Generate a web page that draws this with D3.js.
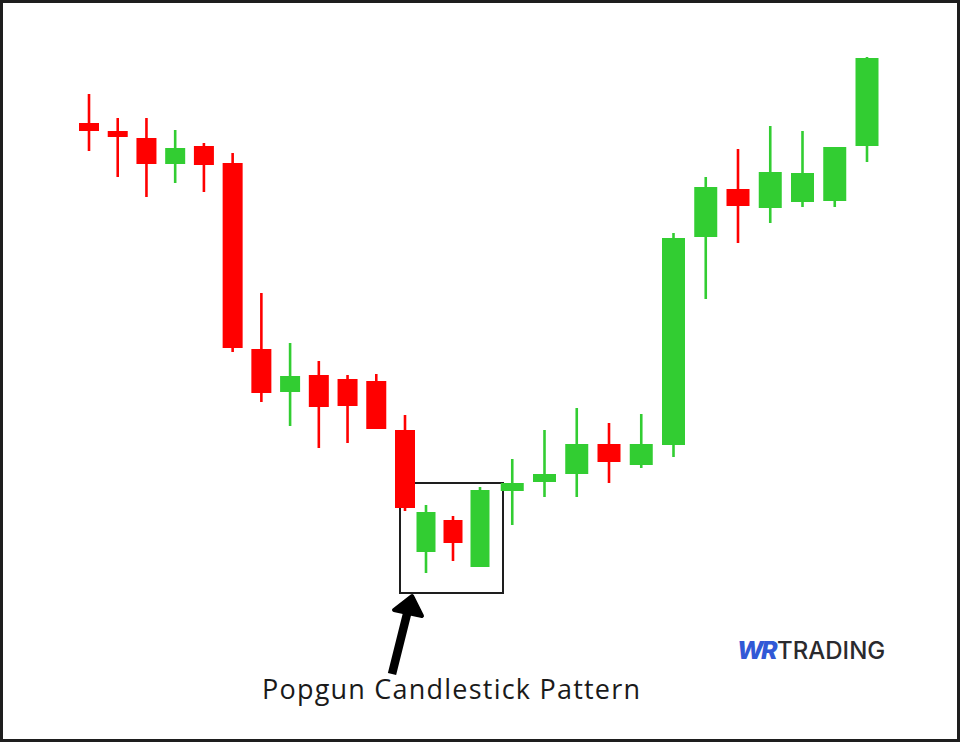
<!DOCTYPE html>
<html>
<head>
<meta charset="utf-8">
<script src="https://cdn.jsdelivr.net/npm/d3@7"></script>
<style>
  html, body { margin: 0; padding: 0; background: #fff; }
  svg { display: block; }
</style>
</head>
<body>
<svg id="chart" width="960" height="742"></svg>
<script>
// ---- data (price units, arbitrary) ----
const candleIndex = d3.range(27);
const opens  = [527, 519, 512, 486, 504, 487, 301, 258, 275, 271, 269, 220,  98, 130,  83, 159, 168, 176, 206, 185, 205, 413, 461, 442, 448, 449, 504];
const highs  = [556, 532, 532, 520, 507, 497, 357, 307, 289, 275, 276, 235, 145, 134, 163, 191, 220, 242, 227, 236, 417, 473, 501, 524, 519, 503, 593];
const lows   = [499, 473, 453, 467, 458, 298, 248, 224, 202, 207, 221, 139,  77,  89,  83, 125, 153, 153, 167, 182, 193, 351, 407, 427, 443, 443, 488];
const closes = [519, 513, 486, 502, 485, 302, 257, 274, 243, 244, 221, 142, 138, 107, 160, 167, 176, 206, 188, 206, 412, 463, 444, 478, 477, 503, 592];

// popgun pattern: candles 12..14, box spans these price levels
const popgunCandles = [12, 14];
const popgunPrices = [57, 167];

const labelText = "Popgun Candlestick Pattern";
const logoParts = ["WR", "TRADING"];

const candles = candleIndex.map(i => ({
  i, open: opens[i], high: highs[i], low: lows[i], close: closes[i]
}));

// ---- layout ----
const W = 960, H = 742;
const svg = d3.select("#chart");

const x = d3.scaleLinear().domain([0, 11, 12, 14, 26]).range([89, 405, 426, 480, 867]);
const y = d3.scaleLinear().domain([0, 600]).range([650, 50]);
const bodyW = d3.scaleThreshold().domain([12, 15]).range([20, 19, 23]);

const RED = "#ff0000", GREEN = "#32cd32";

// outer border
svg.append("rect")
  .attr("x", 1.5).attr("y", 1.5)
  .attr("width", W - 3).attr("height", H - 3)
  .attr("fill", "#fff")
  .attr("stroke", "#1e1e1e").attr("stroke-width", 3);

// popgun box (behind candles)
svg.append("rect")
  .attr("x", x(popgunCandles[0]) - 26)
  .attr("y", y(popgunPrices[1]))
  .attr("width", (x(popgunCandles[1]) + 23) - (x(popgunCandles[0]) - 26))
  .attr("height", y(popgunPrices[0]) - y(popgunPrices[1]))
  .attr("fill", "none")
  .attr("stroke", "#1e1e1e").attr("stroke-width", 2);

// candles
const g = svg.append("g").selectAll("g").data(candles).join("g");
g.append("line")
  .attr("x1", d => x(d.i)).attr("x2", d => x(d.i))
  .attr("y1", d => y(d.high)).attr("y2", d => y(d.low))
  .attr("stroke", d => d.close >= d.open ? GREEN : RED)
  .attr("stroke-width", 2.6);
g.append("rect")
  .attr("x", d => x(d.i) - bodyW(d.i) / 2)
  .attr("width", d => bodyW(d.i))
  .attr("y", d => y(Math.max(d.open, d.close)))
  .attr("height", d => Math.max(2, Math.abs(y(d.open) - y(d.close))))
  .attr("fill", d => d.close >= d.open ? GREEN : RED);

// arrow pointing at box corner
const tipX = x(popgunCandles[0]) - 14, tipY = y(popgunPrices[0]) + 3;
const arrowPath = d3.path();
arrowPath.moveTo(tipX, tipY);
arrowPath.lineTo(tipX + 10, tipY + 20);
arrowPath.lineTo(tipX - 18, tipY + 14);
arrowPath.closePath();
svg.append("path")
  .attr("d", arrowPath.toString())
  .attr("fill", "#000").attr("stroke", "#000")
  .attr("stroke-width", 4).attr("stroke-linejoin", "round");
svg.append("line")
  .attr("x1", tipX - 4).attr("y1", tipY + 14)
  .attr("x2", tipX - 20).attr("y2", tipY + 78)
  .attr("stroke", "#000").attr("stroke-width", 8.5);

// label
svg.append("text")
  .attr("x", 262).attr("y", 699)
  .attr("font-family", "'Open Sans', 'Noto Sans', sans-serif")
  .attr("font-size", 27)
  .attr("textLength", 378)
  .attr("lengthAdjust", "spacing")
  .attr("fill", "#1a1a1a")
  .text(labelText);

// logo
const logo = svg.append("text")
  .attr("x", 737).attr("y", 659)
  .attr("font-family", "Inter, Roboto, sans-serif")
  .attr("font-size", 24);
logo.append("tspan")
  .attr("font-weight", 800).attr("font-style", "italic")
  .attr("font-size", 25)
  .attr("letter-spacing", -2.5)
  .attr("fill", "#3159d6")
  .text(logoParts[0]);
logo.append("tspan")
  .attr("dx", 2)
  .attr("font-weight", 500)
  .attr("fill", "#2a2a2e")
  .text(logoParts[1]);
</script>
</body>
</html>
